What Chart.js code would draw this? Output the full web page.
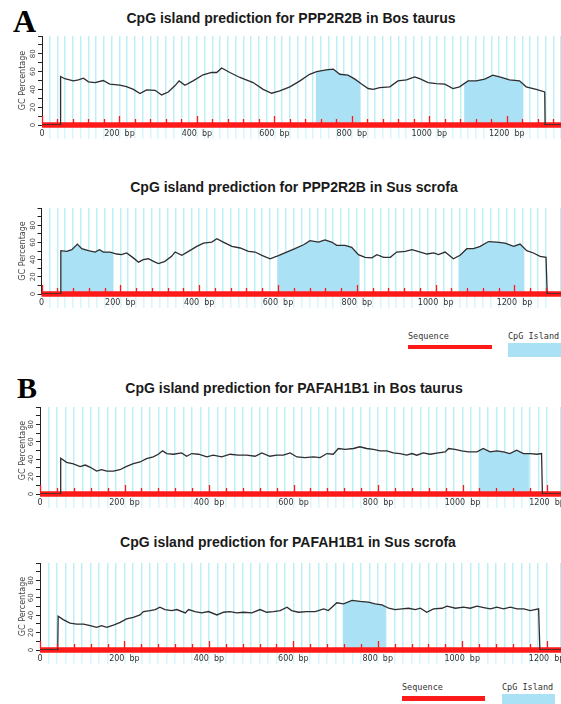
<!DOCTYPE html>
<html><head><meta charset="utf-8">
<script src="https://cdn.jsdelivr.net/npm/chart.js@4.4.1/dist/chart.umd.min.js"></script>
<style>
html,body{margin:0;padding:0;background:#fff;}
body{width:561px;height:704px;position:relative;overflow:hidden;}
canvas{position:absolute;left:0;}
.title{position:absolute;font:bold 14px 'Liberation Sans',Arial,sans-serif;line-height:16px;color:#1a1a1a;white-space:nowrap;transform:translateX(-50%);}
.panel{position:absolute;font-family:'Liberation Serif','Times New Roman',serif;font-weight:bold;color:#000;line-height:1;}
.lg{position:absolute;font:8.5px 'DejaVu Sans Mono',monospace;line-height:10px;color:#333;white-space:nowrap;}
.sw{position:absolute;}
</style></head><body>

<div class="panel" style="left:13px;top:5px;font-size:32px;">A</div>
<div class="panel" style="left:17px;top:373px;font-size:30px;">B</div>

<div class="title" style="left:291px;top:10px;">CpG island prediction for PPP2R2B in Bos taurus</div>
<div class="title" style="left:294px;top:179px;">CpG island prediction for PPP2R2B in Sus scrofa</div>
<div class="title" style="left:294px;top:380px;">CpG island prediction for PAFAH1B1 in Bos taurus</div>
<div class="title" style="left:288px;top:534px;">CpG island prediction for PAFAH1B1 in Sus scrofa</div>

<canvas id="c1" width="561" height="115" style="top:32px"></canvas>
<canvas id="c2" width="561" height="112" style="top:204px"></canvas>
<canvas id="c3" width="561" height="113" style="top:403px"></canvas>
<canvas id="c4" width="561" height="113" style="top:559px"></canvas>

<div class="lg" style="left:408px;top:331px;">Sequence</div>
<div class="sw" style="left:408px;top:345px;width:84px;height:4px;background:#ff1a1a;"></div>
<div class="lg" style="left:508px;top:331px;">CpG Island</div>
<div class="sw" style="left:508px;top:343px;width:53px;height:14px;background:#abe1f5;"></div>

<div class="lg" style="left:402px;top:682px;">Sequence</div>
<div class="sw" style="left:402px;top:696px;width:83px;height:5px;background:#ff1a1a;"></div>
<div class="lg" style="left:502px;top:682px;">CpG Island</div>
<div class="sw" style="left:502px;top:694px;width:53px;height:10px;background:#abe1f5;"></div>

<script>
// ---- Data (bp positions and GC percentages) ----
const p1Pos = [0,47,48,59,81,94,107,120,137,158,175,201,218,236,253,270,292,309,326,343,354,369,390,416,438,451,464,485,511,545,571,593,614,640,666,691,709,734,752,769,790,808,825,842,855,872,898,919,941,962,975,997,1018,1040,1061,1078,1100,1121,1143,1164,1186,1207,1233,1250,1276,1298,1299,1340];
const p1GC  = [0,0,54.5,52,49.6,50.7,52.6,48.5,47.7,50,46,44.7,43,40,35.3,39.5,39,33.8,37,44,49.6,44.7,49.6,56.4,59,59,64,59,53.4,47.7,40,35.7,38.3,42.9,49.6,57,60,62,62.8,57,56,51.5,46,41,40,42,42.9,49.6,50.7,54,52,47.7,46.6,46,41,42.9,49.6,49.6,51.5,56,53.4,50.7,49.6,42.9,40,37.2,0,0];
const p1Islands = [[707,822],[1090,1242]];

const p2Pos = [0,48,49,64,77,91,102,119,136,147,157,174,191,203,216,233,246,258,271,288,297,313,330,339,356,373,394,411,432,445,461,483,504,525,542,559,580,601,622,643,665,681,703,719,736,749,770,787,804,821,838,851,868,885,901,923,940,961,978,995,1007,1024,1045,1062,1079,1096,1113,1134,1155,1176,1198,1214,1231,1248,1265,1280,1283,1318];
const p2GC  = [0,0,50.4,49.6,51.5,58,52.7,50.4,48.8,51.5,48.8,48.8,46.5,45.8,47.7,42,37,40,41,37,35.4,38,43.8,48.8,45,49.6,55.4,59.2,60.4,64.2,60.4,55.4,53.5,49.6,48.8,45,41,44.6,48.8,52.7,57.3,62,60.4,63,60.4,56.5,56.5,54.2,45.8,42.7,42,45.8,42.7,42.7,48.8,49.6,51.5,48.8,46.5,47.7,45.8,48.8,41,45,52.7,52.7,55.4,61,60.4,59.2,55.4,58,50.4,47.7,43.8,42.7,0,0];
const p2Islands = [[49,182],[599,807],[1058,1225]];

const p3Pos = [0,48,49,63,79,95,107,118,134,146,158,174,189,205,221,237,252,268,280,290,300,316,335,347,359,375,395,410,430,450,469,489,509,525,544,560,576,592,608,627,647,663,679,694,706,722,742,757,773,789,805,821,836,852,868,880,892,907,923,943,959,967,982,998,1014,1034,1049,1065,1081,1097,1112,1128,1144,1160,1176,1187,1189,1233];
const p3GC  = [0,0,41,36.4,34.5,31.4,33.3,31,26.4,27.9,26.4,26.4,27.9,31.8,34.9,36.8,40.7,42.6,45.7,49.6,46.5,45.7,47.3,43.4,46.5,45.7,42.6,44.6,42.6,45.7,44.6,44.6,43.4,47.3,43.4,44.6,44.6,47.3,42.6,41.9,42.6,41.9,46.5,45.7,52.3,51.2,52.3,54.3,52.3,51.2,49.6,49.6,47.3,46.5,44.6,46.5,44.6,47.3,45.7,47.3,48.4,52.3,51.2,49.6,48.4,48.4,52.3,48.4,49.6,48.4,46.5,50.4,46.5,46.5,45.7,46.5,0,0];
const p3Islands = [[1038,1157]];

const p4Pos = [0,42,43,55,71,87,103,119,134,146,158,174,190,205,221,237,245,261,273,284,296,312,324,344,352,367,383,399,419,435,450,466,482,502,521,537,553,569,585,596,612,632,652,672,683,703,719,739,758,778,794,810,826,841,857,873,889,901,916,932,952,964,984,1003,1019,1035,1051,1067,1082,1098,1114,1130,1146,1161,1181,1184,1234];
const p4GC  = [0,0,38.8,34.9,31,29.8,29.8,27.9,26,27.9,26,28.7,31.8,35.7,37.6,40.3,44.2,45.3,46.5,49.2,46.5,45.3,46.5,42.6,46.5,44.2,42.6,44.2,40.3,43.4,44.2,42.6,43.4,42.6,46.5,43.4,44.2,45.3,49.2,45.3,43.4,44.2,44.2,47.3,45.3,54.3,53.1,57,55.8,55,53.1,51.9,48,46.5,47.3,48,46.5,48,43.4,47.3,48,50.4,48,49.2,48,50.4,48.8,47.3,49.2,47.3,49.2,47.3,47.3,45.3,47.3,0,0];
const p4Islands = [[717,819]];

// axis settings
const yTicks = [0,20,40,60,80];
const xLabelStep = 200;     // labelled bp ticks
const xStripeStep = 20;     // cyan stripes
const seqTickStep = 40;     // red marks on the sequence bar

const ISLAND = '#abe1f5';
const SEQ_RED = '#ff1a1a';
const STRIPE = '#bdeff8';

function islandPlugin(ranges){
  return {
    id:'islands',
    beforeDatasetsDraw(chart){
      const {ctx, chartArea:a, scales:{x,y}} = chart;
      const pts = chart.getDatasetMeta(0).data;
      const y0 = y.getPixelForValue(0);
      ranges.forEach(([s,e])=>{
        const xs = x.getPixelForValue(s), xe = x.getPixelForValue(e);
        ctx.save();
        ctx.beginPath(); ctx.rect(xs, a.top, xe-xs, y0-a.top); ctx.clip();
        ctx.beginPath();
        ctx.moveTo(pts[0].x, y0);
        pts.forEach(p=>ctx.lineTo(p.x, p.y));
        ctx.lineTo(pts[pts.length-1].x, y0);
        ctx.closePath();
        ctx.fillStyle = ISLAND; ctx.fill();
        ctx.restore();
      });
    }
  };
}

const seqTickPlugin = {
  id:'seqticks',
  afterDatasetsDraw(chart){
    const {ctx, scales:{x,y}} = chart;
    const y0 = y.getPixelForValue(0) - 2;
    ctx.save();
    ctx.strokeStyle = SEQ_RED; ctx.lineWidth = 1.3;
    for (let v = 0; v <= x.max; v += seqTickStep){
      const px = Math.round(x.getPixelForValue(v)) + 0.5;
      const len = (v % xLabelStep === 0) ? 7 : 4;
      ctx.beginPath(); ctx.moveTo(px, y0); ctx.lineTo(px, y0 - len); ctx.stroke();
    }
    ctx.restore();
  }
};

function makeChart(id, pos, gc, islands, left, xMax){
  new Chart(document.getElementById(id), {
    type:'line',
    data:{datasets:[
      {label:'GC', data:pos.map((p,i)=>({x:p,y:gc[i]})), borderColor:'#2e2e2e', borderWidth:1.3, pointRadius:0, tension:0, fill:false},
      {label:'Sequence', data:[{x:0,y:0},{x:xMax,y:0}], borderColor:SEQ_RED, borderWidth:5.5, pointRadius:0, fill:false, clip:false}
    ]},
    options:{
      responsive:false, devicePixelRatio:1, animation:false, events:[],
      layout:{padding:{top:4,left:0,right:0,bottom:0}},
      plugins:{legend:{display:false}, tooltip:{enabled:false}},
      scales:{
        x:{type:'linear', min:0, max:xMax,
          afterFit(s){ s.height = 22; s.paddingLeft = 0; s.paddingRight = 0; },
          border:{display:false},
          grid:{color:c=>c.tick && c.tick.value===0 ? 'rgba(0,0,0,0)' : STRIPE, lineWidth:1.5, drawTicks:true, tickLength:14,
                tickColor:c=>c.tick && c.tick.value===0 ? 'rgba(0,0,0,0)' : '#d8f6fb'},
          ticks:{stepSize:xStripeStep, autoSkip:false, minRotation:0, maxRotation:0, padding:-10,
                 font:{family:'DejaVu Sans', size:8}, color:'#333',
                 callback:v => v===0 ? '0' : (v % xLabelStep === 0 ? v + '  bp' : '')}
        },
        y:{min:0, max:100,
          afterFit(s){ s.width = left; s.paddingTop = 0; s.paddingBottom = 0; },
          border:{display:true, color:'#222', width:1},
          grid:{drawOnChartArea:false, drawTicks:true, tickLength:4, color:'#222'},
          ticks:{stepSize:10, autoSkip:false, minRotation:90, maxRotation:90, crossAlign:'center', padding:0,
                 font:{family:'DejaVu Sans', size:7}, color:'#444',
                 callback:v => yTicks.includes(v) ? String(v) : ''},
          title:{display:true, text:'GC Percentage', font:{family:'DejaVu Sans', size:8}, color:'#444', padding:{top:18,bottom:0}}
        }
      }
    },
    plugins:[islandPlugin(islands), seqTickPlugin]
  });
}

makeChart('c1', p1Pos, p1GC, p1Islands, 42, 1340);
makeChart('c2', p2Pos, p2GC, p2Islands, 41.5, 1318);
makeChart('c3', p3Pos, p3GC, p3Islands, 40, 1233);
makeChart('c4', p4Pos, p4GC, p4Islands, 40, 1234);
</script>
</body></html>
